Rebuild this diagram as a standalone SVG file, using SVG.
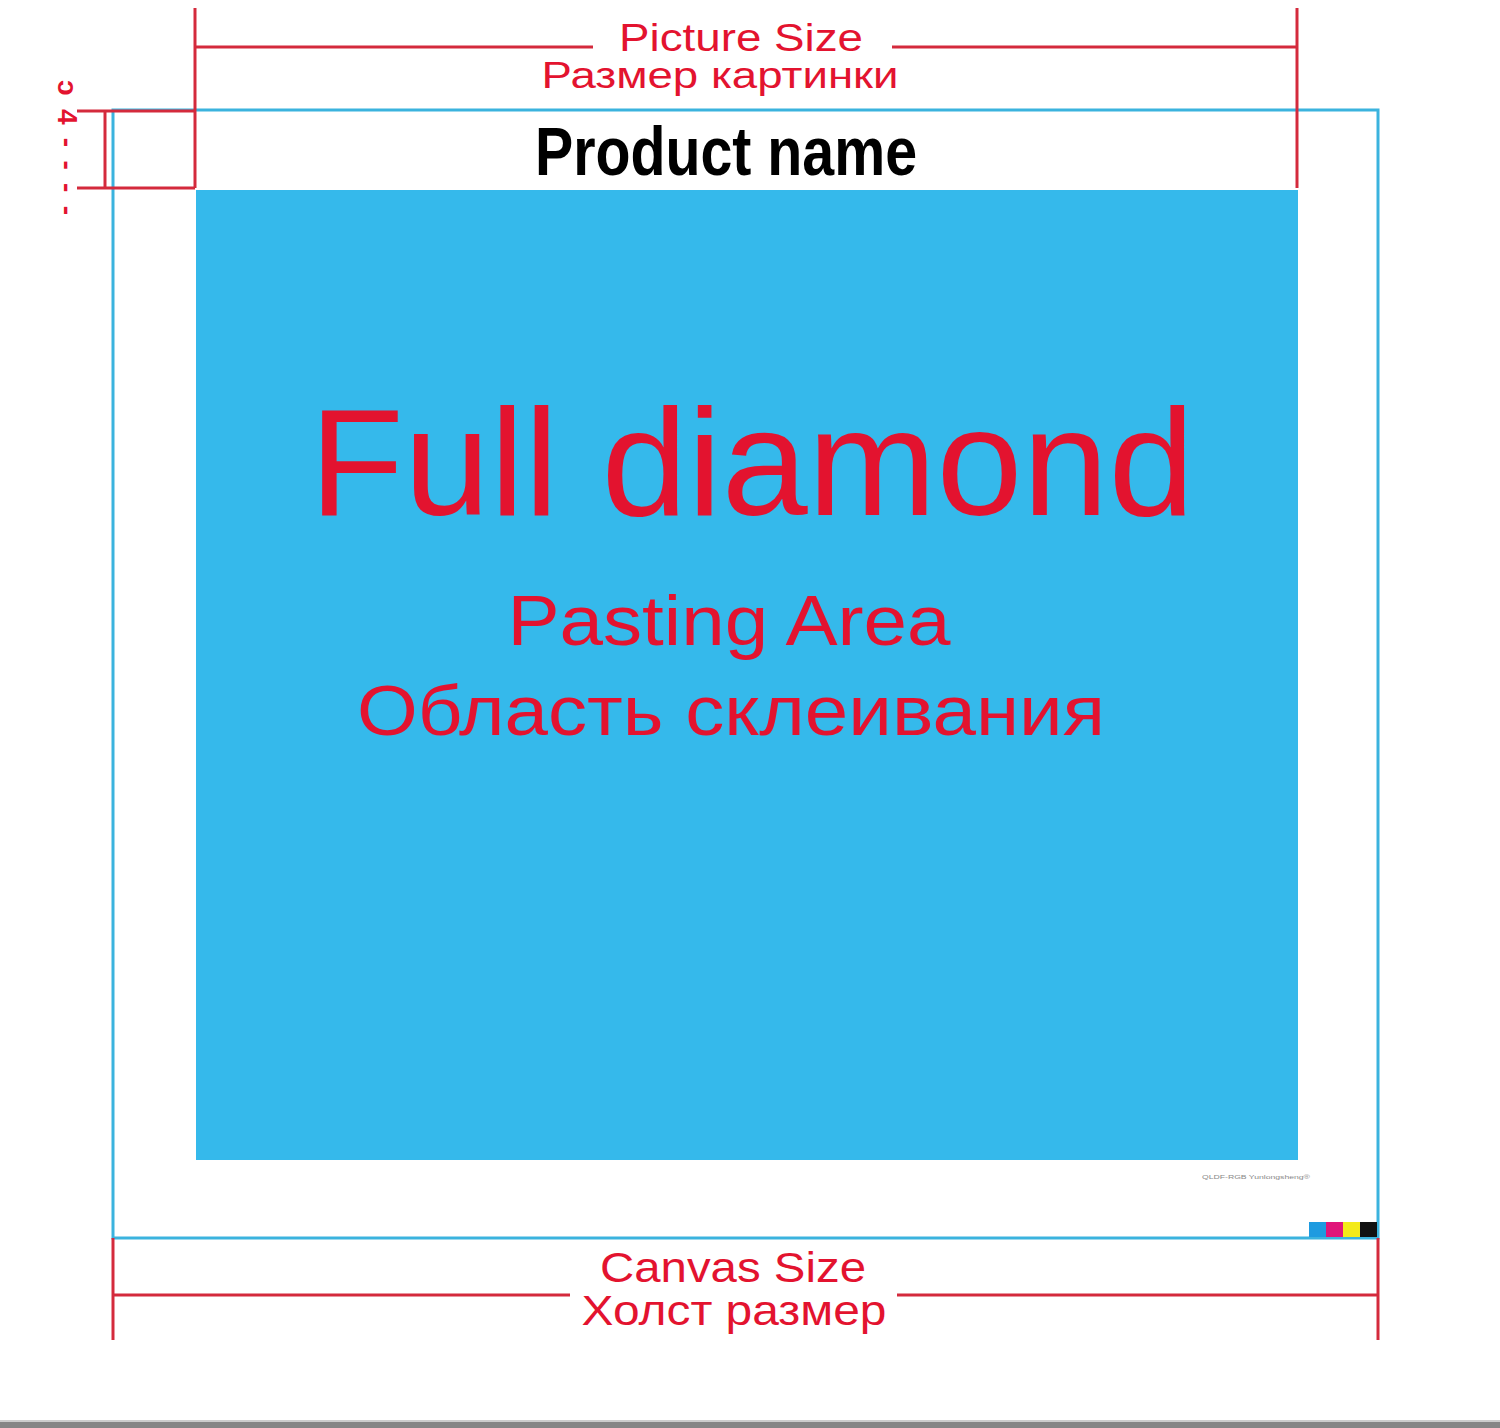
<svg xmlns="http://www.w3.org/2000/svg" width="1500" height="1428" viewBox="0 0 1500 1428">
<style>
.red{stroke:#D42A3C;stroke-width:3;fill:none}
.blue{stroke:#3BB3DE;stroke-width:3;fill:none}
.rt{fill:#E3132F;font-family:"Liberation Sans",Arial,sans-serif;text-anchor:middle}
</style>
<rect x="0" y="0" width="1500" height="1428" fill="#FFFFFF"/>
<g id="canvas">
<rect class="blue" x="113" y="110" width="1265" height="1128"/>
</g>
<g id="pasting-area">
<rect x="196" y="190" width="1102" height="970" fill="#35B9EB"/>
<text class="rt" x="752" y="515" font-size="152" textLength="885" lengthAdjust="spacingAndGlyphs">Full diamond</text>
<text class="rt" x="729" y="645" font-size="70" textLength="443" lengthAdjust="spacingAndGlyphs">Pasting Area</text>
<text class="rt" x="731" y="735" font-size="70" textLength="748" lengthAdjust="spacingAndGlyphs">Область склеивания</text>
</g>
<g id="product-name">
<text x="726" y="175" font-family="'Liberation Sans Narrow','Liberation Sans',Arial,sans-serif" font-weight="bold" font-size="68" fill="#000" text-anchor="middle" textLength="382" lengthAdjust="spacingAndGlyphs">Product name</text>
</g>
<g id="connectors">
<line class="red" x1="195" y1="8" x2="195" y2="188"/>
<line class="red" x1="1297" y1="8" x2="1297" y2="188"/>
<line class="red" x1="195" y1="47" x2="593" y2="47"/>
<line class="red" x1="892" y1="47" x2="1297" y2="47"/>
<line class="red" x1="77" y1="111" x2="195" y2="111"/>
<line class="red" x1="77" y1="188" x2="195" y2="188"/>
<line class="red" x1="105" y1="111" x2="105" y2="188"/>
<line class="red" x1="113" y1="1238" x2="113" y2="1340"/>
<line class="red" x1="1378" y1="1238" x2="1378" y2="1340"/>
<line class="red" x1="113" y1="1295" x2="570" y2="1295"/>
<line class="red" x1="897" y1="1295" x2="1378" y2="1295"/>
</g>
<g id="labels">
<text class="rt" x="741" y="51" font-size="39" textLength="244" lengthAdjust="spacingAndGlyphs">Picture Size</text>
<text class="rt" x="720" y="88" font-size="37" textLength="357" lengthAdjust="spacingAndGlyphs">Размер картинки</text>
<text class="rt" x="733" y="1282" font-size="42" textLength="266" lengthAdjust="spacingAndGlyphs">Canvas Size</text>
<text class="rt" x="734" y="1325" font-size="42" textLength="305" lengthAdjust="spacingAndGlyphs">Холст размер</text>
</g>
<g id="margin-label">
<text class="rt" x="0" y="0" font-size="28" style="text-anchor:start" font-weight="bold" textLength="135" lengthAdjust="spacing" transform="translate(58,80) rotate(90)">ↄ 4 - - - -</text>
</g>
<g id="color-bar">
<rect x="1309" y="1222" width="17" height="15" fill="#1E9BE0"/>
<rect x="1326" y="1222" width="17" height="15" fill="#E0157A"/>
<rect x="1343" y="1222" width="17" height="15" fill="#F3EA1A"/>
<rect x="1360" y="1222" width="17" height="15" fill="#111111"/>
<text x="1202" y="1179" font-family="'Liberation Sans',Arial,sans-serif" font-size="6" fill="#888" textLength="108" lengthAdjust="spacingAndGlyphs">QLDF-RGB Yunlongsheng®</text>
</g>
<rect x="0" y="1420" width="1500" height="2" fill="#CCCCCC"/>
<rect x="0" y="1422" width="1500" height="6" fill="#858585"/>
</svg>
